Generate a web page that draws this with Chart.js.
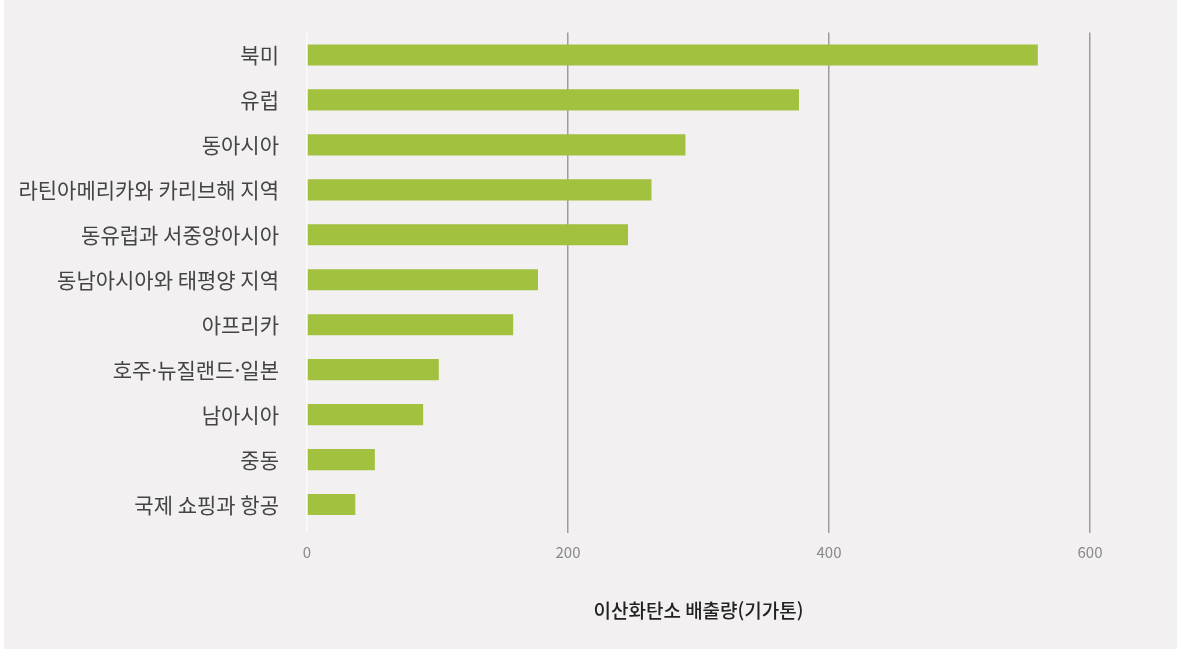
<!DOCTYPE html>
<html lang="ko">
<head>
<meta charset="utf-8">
<script src="https://cdn.jsdelivr.net/npm/chart.js@4.4.1/dist/chart.umd.min.js"></script>
<style>
  html, body { margin: 0; padding: 0; background: #ffffff; }
  #wrap { position: absolute; left: 4px; top: 0; width: 1173px; height: 649px; background: #f2f0f1; }
  canvas { display: block; }
</style>
</head>
<body>
<div id="wrap"><canvas id="c" width="1173" height="649"></canvas></div>
<script>
// 지역별 이산화탄소 배출량 (기가톤)
const regions = [
  '북미',
  '유럽',
  '동아시아',
  '라틴아메리카와 카리브해 지역',
  '동유럽과 서중앙아시아',
  '동남아시아와 태평양 지역',
  '아프리카',
  '호주·뉴질랜드·일본',
  '남아시아',
  '중동',
  '국제 쇼핑과 항공'
];
const emissions = [560, 377, 290, 264, 246, 177, 158, 101, 89, 52, 37];
const xTicks = [0, 200, 400, 600];
const axisTitle = '이산화탄소 배출량(기가톤)';

const FONT = '"Noto Sans CJK KR", "Noto Sans", sans-serif';

new Chart(document.getElementById('c'), {
  type: 'bar',
  data: {
    labels: regions,
    datasets: [{
      data: emissions,
      backgroundColor: '#a2c13f',
      borderWidth: 0,
      barPercentage: 0.47,
      categoryPercentage: 1.0
    }]
  },
  options: {
    indexAxis: 'y',
    responsive: false,
    animation: false,
    layout: { padding: { top: 32.5, right: 87, bottom: 0, left: 0 } },
    plugins: { legend: { display: false }, tooltip: { enabled: false } },
    scales: {
      x: {
        min: 0,
        max: 600,
        afterBuildTicks: s => { s.ticks = xTicks.map(v => ({ value: v })); },
        afterFit: s => { s.height = 122; },
        border: { display: false },
        grid: {
          color: ctx => ctx.index === 0 ? 'rgba(255,255,255,0.8)' : '#9d9d9d',
          lineWidth: 1.5,
          drawTicks: true,
          tickLength: 6
        },
        ticks: {
          padding: 10,
          color: '#8a8a8a',
          font: { family: FONT, size: 15 }
        },
        title: {
          display: true,
          text: axisTitle,
          color: '#222222',
          font: { family: FONT, size: 19, weight: '500' },
          padding: { top: 0, bottom: 27 }
        }
      },
      y: {
        afterFit: s => { s.width = 303; s.paddingTop = 0; s.paddingBottom = 0; },
        border: { display: false },
        grid: { display: false, drawTicks: false },
        ticks: {
          padding: 28,
          color: '#444444',
          font: { family: FONT, size: 21 }
        }
      }
    }
  }
});
</script>
</body>
</html>
